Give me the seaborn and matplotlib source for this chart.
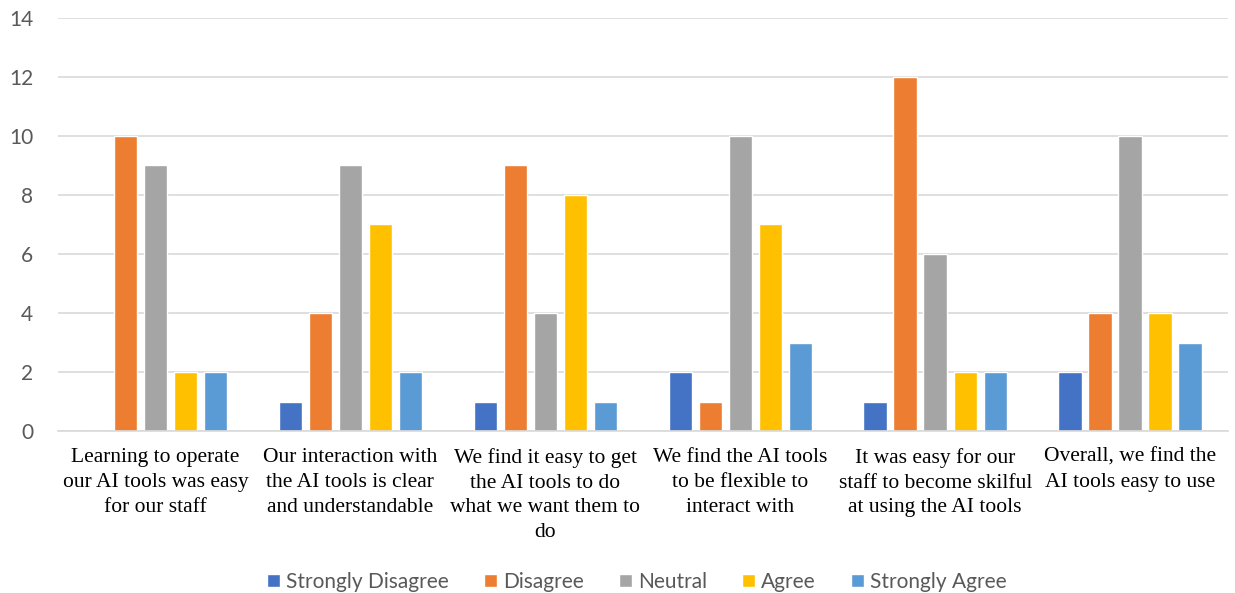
import numpy as np
import pandas as pd
import matplotlib
matplotlib.use("Agg")
import matplotlib.pyplot as plt
import seaborn as sns

categories = [
    "Learning to operate\nour AI tools was easy\nfor our staff",
    "Our interaction with\nthe AI tools is clear\nand understandable",
    "We find it easy to get\nthe AI tools to do\nwhat we want them to\ndo",
    "We find the AI tools\nto be flexible to\ninteract with",
    "It was easy for our\nstaff to become skilful\nat using the AI tools",
    "Overall, we find the\nAI tools easy to use",
]
responses = ["Strongly Disagree", "Disagree", "Neutral", "Agree", "Strongly Agree"]
strongly_disagree = [0, 1, 1, 2, 1, 2]
disagree = [10, 4, 9, 1, 12, 4]
neutral = [9, 9, 4, 10, 6, 10]
agree = [2, 7, 8, 7, 2, 4]
strongly_agree = [2, 2, 1, 3, 2, 3]
colors = ["#4472C4", "#ED7D31", "#A5A5A5", "#FFC000", "#5B9BD5"]

series = [strongly_disagree, disagree, neutral, agree, strongly_agree]
rows = []
for resp, vals in zip(responses, series):
    for cat, v in zip(categories, vals):
        rows.append({"Statement": cat, "Response": resp, "Count": v})
df = pd.DataFrame(rows)

sns.set_theme(style="white")
plt.rcParams["font.family"] = ["Lato", "DejaVu Sans"]

fig = plt.figure(figsize=(12.35, 5.93), dpi=100)
ax = fig.add_axes([0.047, 0.273, 0.947, 0.697])

sns.barplot(data=df, x="Statement", y="Count", hue="Response",
            order=categories, hue_order=responses, palette=colors,
            width=0.77, gap=0.22, saturation=1, errorbar=None, ax=ax)

ax.set_ylim(0, 14)
ax.set_yticks(np.arange(0, 15, 2))
ax.set_xlim(-0.5, len(categories) - 0.5)
ax.yaxis.grid(True, color="#D9D9D9", linewidth=1.2)
ax.set_axisbelow(True)
for s in ["left", "right", "top"]:
    ax.spines[s].set_visible(False)
ax.spines["bottom"].set_color("#D9D9D9")
ax.spines["bottom"].set_linewidth(1.2)
ax.set_xlabel("")
ax.set_ylabel("")
ax.tick_params(axis="y", length=0, labelsize=15, colors="#595959", pad=18)
ax.tick_params(axis="x", length=0, pad=12)
for lbl in ax.get_xticklabels():
    lbl.set_fontfamily(["Liberation Serif"])
    lbl.set_fontsize(15.5)
    lbl.set_color("#000000")
    lbl.set_linespacing(1.42)

ax.legend(loc="lower center", bbox_to_anchor=(0.495, -0.435), ncol=5, frameon=False,
          fontsize=15, handlelength=0.6, handleheight=0.6, handletextpad=0.3,
          columnspacing=1.7, labelcolor="#595959")

fig.savefig("out.png", dpi=100, facecolor="white")
